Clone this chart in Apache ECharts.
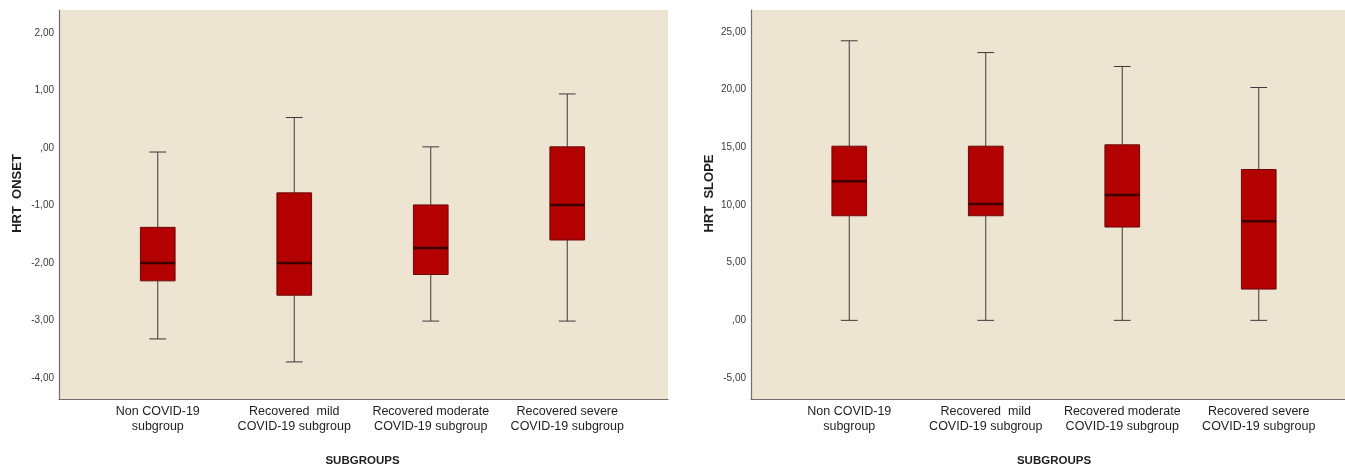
<!DOCTYPE html>
<html>
<head>
<meta charset="utf-8">
<script src="https://cdn.jsdelivr.net/npm/echarts@6/dist/echarts.min.js"></script>
<style>
html,body{margin:0;padding:0;background:#ffffff;}
#chart{width:1345px;height:467px;}
</style>
</head>
<body>
<div id="chart"></div>
<script>
// ---- data ----
const categories = [
  "Non COVID-19\nsubgroup",
  "Recovered  mild\nCOVID-19 subgroup",
  "Recovered moderate\nCOVID-19 subgroup",
  "Recovered severe\nCOVID-19 subgroup"
];
// HRT ONSET
const onsetMin    = [-3.32, -3.72, -3.01, -3.01];
const onsetQ1     = [-2.31, -2.56, -2.20, -1.60];
const onsetMedian = [-2.00, -2.00, -1.74, -0.99];
const onsetQ3     = [-1.38, -0.78, -0.99, 0.02];
const onsetMax    = [-0.07, 0.53, 0.02, 0.94];
// HRT SLOPE
const slopeMin    = [0.00, 0.00, 0.00, 0.00];
const slopeQ1     = [9.07, 9.07, 8.09, 2.71];
const slopeMedian = [12.07, 10.08, 10.86, 8.60];
const slopeQ3     = [15.10, 15.10, 15.22, 13.08];
const slopeMax    = [24.24, 23.22, 22.01, 20.19];

function rows(mn, q1, md, q3, mx) {
  return categories.map((c, i) => [i, mn[i], q1[i], md[i], q3[i], mx[i]]);
}

const BG = '#ede5d2';
const FONT = "'Liberation Sans', Arial, sans-serif";

function fmt(v) {
  let s = Math.abs(v).toFixed(2).replace('.', ',');
  if (s.charAt(0) === '0') s = s.slice(1);
  return (v < 0 ? '-' : '') + s;
}

function renderBox(params, api) {
  const x = api.value(0);
  const pMin = api.coord([x, api.value(1)]);
  const pQ1 = api.coord([x, api.value(2)]);
  const pMed = api.coord([x, api.value(3)]);
  const pQ3 = api.coord([x, api.value(4)]);
  const pMax = api.coord([x, api.value(5)]);
  const band = api.size([1, 0])[0];
  const bw = band * 0.254;
  const cw = band * 0.123;
  const cx = pMed[0];
  const wStyle = { stroke: '#3a3a3a', lineWidth: 1 };
  return {
    type: 'group',
    children: [
      { type: 'line', shape: { x1: cx, y1: pQ3[1], x2: cx, y2: pMax[1] }, style: wStyle },
      { type: 'line', shape: { x1: cx, y1: pQ1[1], x2: cx, y2: pMin[1] }, style: wStyle },
      { type: 'line', shape: { x1: cx - cw / 2, y1: pMax[1], x2: cx + cw / 2, y2: pMax[1] }, style: wStyle },
      { type: 'line', shape: { x1: cx - cw / 2, y1: pMin[1], x2: cx + cw / 2, y2: pMin[1] }, style: wStyle },
      { type: 'rect', shape: { x: cx - bw / 2, y: pQ3[1], width: bw, height: pQ1[1] - pQ3[1] },
        style: { fill: '#b30000', stroke: '#6a0a0a', lineWidth: 1 } },
      { type: 'line', shape: { x1: cx - bw / 2, y1: pMed[1], x2: cx + bw / 2, y2: pMed[1] },
        style: { stroke: '#3c0000', lineWidth: 2.5 } }
    ]
  };
}

function frameX(grid) {
  return {
    type: 'value', gridIndex: grid, min: 0, max: 1,
    axisLine: { show: true, onZero: false, lineStyle: { color: '#6f6f6f', width: 1.2 } },
    axisTick: { show: false }, axisLabel: { show: false }, splitLine: { show: false }
  };
}
function frameY(grid) {
  return { type: 'value', gridIndex: grid, show: false, min: 0, max: 1 };
}
function dataX(grid) {
  return {
    type: 'category', gridIndex: grid, data: categories, boundaryGap: true,
    axisLine: { show: false }, axisTick: { show: false }, splitLine: { show: false },
    axisLabel: { interval: 0, fontFamily: FONT, fontSize: 12.5, color: '#1e1e1e', lineHeight: 15, margin: 5 },
    name: 'SUBGROUPS', nameLocation: 'middle', nameGap: 56,
    nameTextStyle: { fontFamily: FONT, fontSize: 11.5, fontWeight: 'bold', color: '#1e1e1e' }
  };
}
function dataY(grid, min, max, name, offset) {
  return {
    type: 'value', gridIndex: grid, min: min, max: max, splitNumber: 7, offset: offset,
    axisLine: { show: true, onZero: false, lineStyle: { color: '#6f6f6f', width: 1.2 } },
    axisTick: { show: false }, splitLine: { show: false },
    axisLabel: { showMinLabel: false, showMaxLabel: false, fontFamily: FONT, fontSize: 10,
      color: '#3a3a3a', margin: 5, formatter: fmt },
    name: name, nameLocation: 'middle', nameGap: 35,
    nameTextStyle: { fontFamily: FONT, fontSize: 13, fontWeight: 'bold', color: '#1e1e1e', padding: [0, 0, 0, 22] }
  };
}

const chart = echarts.init(document.getElementById('chart'), null, { renderer: 'canvas' });
chart.setOption({
  animation: false,
  backgroundColor: '#ffffff',
  grid: [
    { left: 59, top: 10, width: 609, height: 389, show: true, backgroundColor: BG, borderWidth: 0, outerBoundsMode: 'none', containLabel: false },
    { left: 89.5, top: 10, width: 546, height: 389, outerBoundsMode: 'none', containLabel: false },
    { left: 751, top: 10, width: 594, height: 389, show: true, backgroundColor: BG, borderWidth: 0, outerBoundsMode: 'none', containLabel: false },
    { left: 781, top: 10, width: 546, height: 389, outerBoundsMode: 'none', containLabel: false }
  ],
  xAxis: [frameX(0), dataX(1), frameX(2), dataX(3)],
  yAxis: [frameY(0), dataY(1, -4.365, 2.40, 'HRT  ONSET', 30.5), frameY(2), dataY(3, -6.82, 26.91, 'HRT  SLOPE', 30)],
  series: [
    { type: 'custom', name: 'HRT ONSET', xAxisIndex: 1, yAxisIndex: 1, renderItem: renderBox,
      encode: { x: 0, y: [1, 2, 3, 4, 5] }, data: rows(onsetMin, onsetQ1, onsetMedian, onsetQ3, onsetMax) },
    { type: 'custom', name: 'HRT SLOPE', xAxisIndex: 3, yAxisIndex: 3, renderItem: renderBox,
      encode: { x: 0, y: [1, 2, 3, 4, 5] }, data: rows(slopeMin, slopeQ1, slopeMedian, slopeQ3, slopeMax) }
  ]
});
</script>
</body>
</html>
